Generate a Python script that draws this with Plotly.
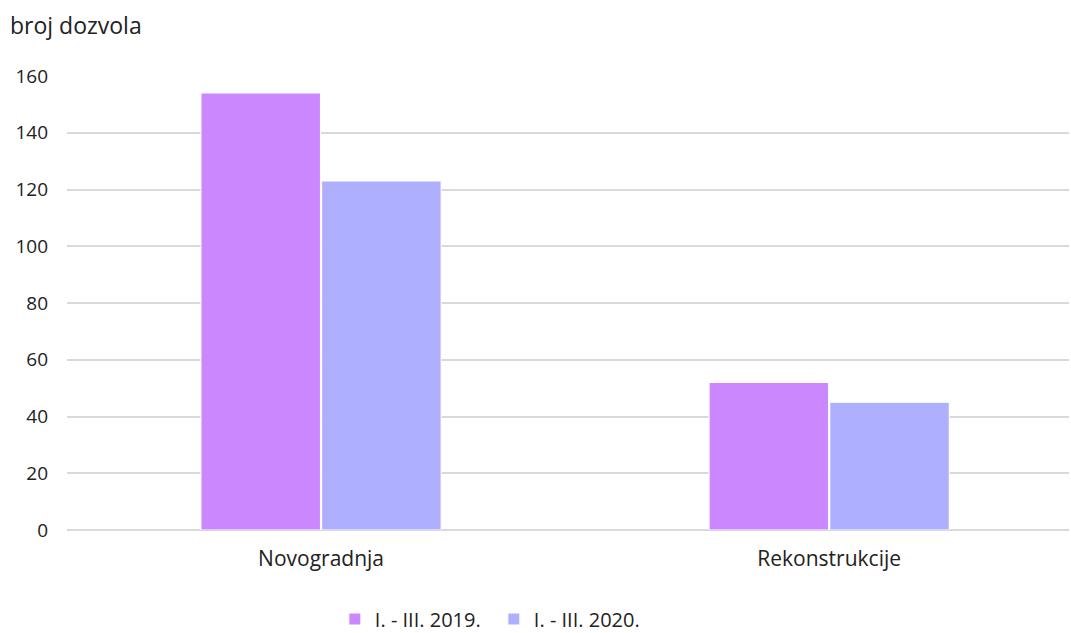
import plotly.graph_objects as go

categories = ["Novogradnja", "Rekonstrukcije"]
series_names = ["I. - III. 2019.", "I. - III. 2020."]
values_2019 = [154, 52]
values_2020 = [123, 45]
colors = ["#CB87FD", "#AFAFFF"]

fig = go.Figure()
for name, vals, col in zip(series_names, [values_2019, values_2020], colors):
    fig.add_trace(go.Bar(
        x=categories, y=vals, name=name,
        marker=dict(color=col, line=dict(color="white", width=1)),
    ))

font_family = "Open Sans, Noto Sans, Liberation Sans, sans-serif"
fig.update_layout(
    width=1071, height=633, autosize=False,
    margin=dict(l=67, r=2, t=76, b=103),
    paper_bgcolor="white", plot_bgcolor="white",
    barmode="group", bargap=0.525, bargroupgap=0.01,
    font=dict(family=font_family, size=20, color="#222222"),
    showlegend=True,
    legend=dict(orientation="h", x=0.426, xanchor="center", xref="paper",
                y=14/633, yanchor="middle", yref="container",
                font=dict(size=20), itemwidth=30, traceorder="normal",
                entrywidth=114, entrywidthmode="pixels"),
    xaxis=dict(range=[-0.5, 1.472], showgrid=False, showline=False, ticks="",
               tickfont=dict(size=21), automargin=False, ticklabelstandoff=14),
    yaxis=dict(range=[0, 160], dtick=20, showgrid=True, gridcolor="#D9D9D9", gridwidth=1.5,
               zeroline=True, zerolinecolor="#D9D9D9", zerolinewidth=1.5,
               showline=False, ticks="", ticklabelstandoff=18, tickfont=dict(size=19),
               automargin=False),
    annotations=[dict(text="broj dozvola", xref="paper", yref="paper", x=-59/1002, y=1 + 51/454,
                      xanchor="left", yanchor="middle", showarrow=False, font=dict(size=23))],
)
post = ("document.documentElement.style.margin='0';document.body.style.margin='0';"
        "document.body.style.padding='0';"
        "var gd=document.getElementById('{plot_id}');"
        "gd.style.width='1071px';gd.style.height='633px';"
        "Plotly.relayout(gd,{width:1071,height:633,autosize:false});")
fig.write_html("out.html", post_script=post, config={"displayModeBar": False, "responsive": False})
